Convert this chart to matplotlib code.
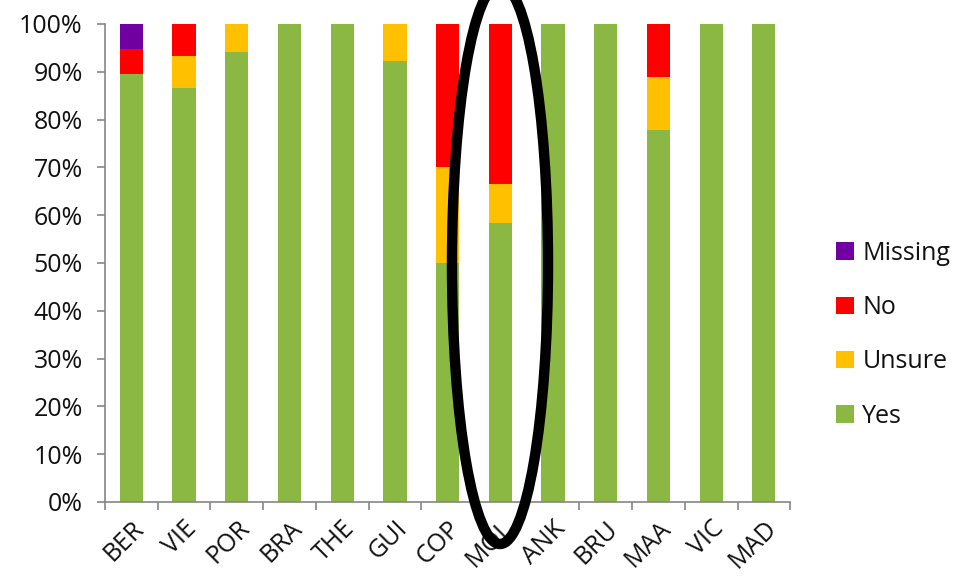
import matplotlib
matplotlib.use("Agg")
import matplotlib.pyplot as plt
from matplotlib.patches import Ellipse
from matplotlib.ticker import FuncFormatter, FixedLocator
import numpy as np

sites = ["BER", "VIE", "POR", "BRA", "THE", "GUI", "COP", "MOL", "ANK", "BRU", "MAA", "VIC", "MAD"]
yes = [89.5, 86.7, 94.1, 100, 100, 92.3, 50.0, 58.3, 100, 100, 77.8, 100, 100]
unsure = [0, 6.7, 5.9, 0, 0, 7.7, 20.0, 8.3, 0, 0, 11.1, 0, 0]
no = [5.2, 6.6, 0, 0, 0, 0, 30.0, 33.4, 0, 0, 11.1, 0, 0]
missing = [5.3, 0, 0, 0, 0, 0, 0, 0, 0, 0, 0, 0, 0]

colors = {"Yes": "#8AB843", "Unsure": "#FFC000", "No": "#FF0000", "Missing": "#7000A0"}

plt.rcParams["font.family"] = ["Open Sans", "DejaVu Sans"]
plt.rcParams["text.color"] = "#111111"

fs = 18
fig = plt.figure(figsize=(9.59, 5.82), dpi=100)
ax = fig.add_axes([0.1095, 0.1375, 0.7145, 0.8213])

x = np.arange(len(sites))
w = 0.44
bottom = np.zeros(len(sites))
handles = {}
for name, vals in [("Yes", yes), ("Unsure", unsure), ("No", no), ("Missing", missing)]:
    vals = np.array(vals)
    handles[name] = ax.bar(x, vals, w, bottom=bottom, color=colors[name], label=name, linewidth=0)
    bottom += vals

ax.set_xlim(-0.5, len(sites) - 0.5)
ax.set_ylim(0, 100)
ax.yaxis.set_major_locator(FixedLocator(np.arange(0, 101, 10)))
ax.yaxis.set_major_formatter(FuncFormatter(lambda v, p: f"{int(v)}%"))

ax.set_xticks(x)
ax.set_xticklabels(sites, rotation=45, ha="right", rotation_mode="anchor", fontsize=fs,
                   color="#111111")
ax.tick_params(axis="x", which="major", length=0, pad=10)
ax.set_xticks(np.arange(-0.5, len(sites), 1), minor=True)
ax.tick_params(axis="x", which="minor", length=6, color="#868686", width=1.2)
ax.tick_params(axis="y", length=6, color="#868686", width=1.2, labelsize=fs,
               labelcolor="#111111", pad=10)

for s in ["top", "right"]:
    ax.spines[s].set_visible(False)
for s in ["left", "bottom"]:
    ax.spines[s].set_color("#868686")
    ax.spines[s].set_linewidth(1.2)

leg = ax.legend([handles[k] for k in ["Missing", "No", "Unsure", "Yes"]],
                ["Missing", "No", "Unsure", "Yes"],
                loc="center left", bbox_to_anchor=(1.034, 0.35), frameon=False,
                fontsize=fs, handlelength=0.7, handleheight=0.7, handletextpad=0.35,
                labelspacing=1.17)

# Highlight ring around MOL
ell = Ellipse((500 / 959, 1 - 264 / 582), 96 / 959, 560 / 582, transform=fig.transFigure,
              fill=False, edgecolor="black", linewidth=7.5, clip_on=False)
fig.add_artist(ell)

fig.savefig("out.png", dpi=100)
